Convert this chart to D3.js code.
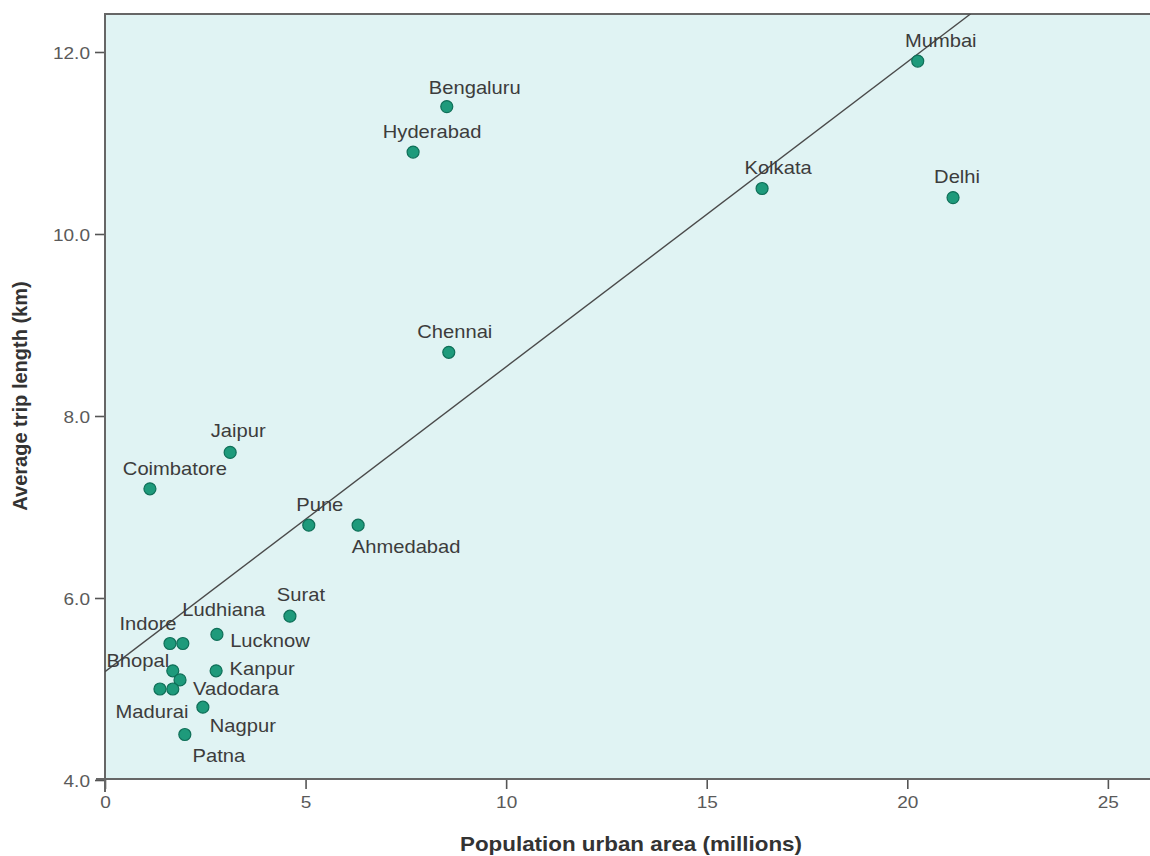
<!DOCTYPE html>
<html>
<head>
<meta charset="utf-8">
<script src="https://cdn.jsdelivr.net/npm/d3@7"></script>
<style>
  html, body { margin: 0; padding: 0; background: #ffffff; }
  svg { display: block; }
  text { font-family: "Liberation Sans", Arial, Helvetica, sans-serif; }
</style>
</head>
<body>
<svg id="chart" width="1150" height="856"></svg>
<script>
// ---- Data ----
const cities = ["Mumbai", "Delhi", "Kolkata", "Bengaluru", "Hyderabad", "Chennai",
  "Jaipur", "Coimbatore", "Pune", "Ahmedabad", "Surat", "Lucknow", "Ludhiana",
  "Indore", "Bhopal", "Kanpur", "Vadodara", "Madurai", "", "Nagpur", "Patna"];
const population = [20.26, 21.14, 16.38, 8.52, 7.68, 8.57,
  3.12, 1.12, 5.08, 6.31, 4.61, 2.79, 1.94,
  1.62, 1.69, 2.77, 1.87, 1.37, 1.69, 2.44, 1.99];
const tripLength = [11.9, 10.4, 10.5, 11.4, 10.9, 8.7,
  7.6, 7.2, 6.8, 6.8, 5.8, 5.6, 5.5,
  5.5, 5.2, 5.2, 5.1, 5.0, 5.0, 4.8, 4.5];
const xTicks = [0, 5, 10, 15, 20, 25];
const yTicks = [4, 6, 8, 10, 12];
const trendIntercept = 5.19;
const trendSlope = 0.335;
const xTitle = "Population urban area (millions)";
const yTitle = "Average trip length (km)";

// ---- Layout (label placement in px relative to point) ----
const labelPlacement = {
  "Mumbai": [23, -14], "Delhi": [4, -15], "Kolkata": [16, -15],
  "Bengaluru": [28, -13], "Hyderabad": [19, -14], "Chennai": [6, -14],
  "Jaipur": [8, -15], "Coimbatore": [25, -14], "Pune": [11, -14],
  "Ahmedabad": [48, 28], "Surat": [11, -15], "Lucknow": [53, 13],
  "Ludhiana": [41, -28], "Indore": [-22, -14], "Bhopal": [-35, -4],
  "Kanpur": [46, 4], "Vadodara": [56, 15], "Madurai": [-8, 29],
  "Nagpur": [40, 25], "Patna": [34, 27]
};
const SX = 1.12; // horizontal text stretch seen in the reference

(function draw() {
  const svg = d3.select("#chart");
  const pL = 105, pR = 1150, pT = 14, pB = 779;

  const x = d3.scaleLinear().domain([0, 26.1]).range([105, 1152]);
  const y = d3.scaleLinear().domain([4, 12]).range([780, 52]);

  // plot background
  svg.append("rect").attr("x", pL).attr("y", pT)
    .attr("width", pR - pL).attr("height", pB - pT)
    .attr("fill", "#e0f3f3");

  svg.append("clipPath").attr("id", "clip")
    .append("rect").attr("x", pL).attr("y", pT)
    .attr("width", pR - pL).attr("height", pB - pT);

  // axes (ticks via d3 axes)
  const yAxis = d3.axisLeft(y).tickValues(yTicks).tickFormat(d3.format(".1f"))
    .tickSizeInner(10).tickSizeOuter(0).tickPadding(5);
  const gy = svg.append("g").attr("transform", `translate(${pL},0)`).call(yAxis);
  gy.select(".domain").remove();
  gy.selectAll(".tick line").attr("stroke", "#555").attr("stroke-width", 1.6);
  gy.selectAll(".tick text")
    .attr("x", null).attr("dy", null)
    .attr("text-anchor", "end")
    .attr("transform", `translate(-15,6) scale(${SX},1)`)
    .attr("font-size", 17).attr("fill", "#5a5a5a");

  const xAxis = d3.axisBottom(x).tickValues(xTicks).tickFormat(d3.format("d"))
    .tickSizeInner(10).tickSizeOuter(0);
  const gx = svg.append("g").attr("transform", `translate(0,${pB})`).call(xAxis);
  gx.select(".domain").remove();
  gx.selectAll(".tick line").attr("stroke", "#555").attr("stroke-width", 1.6);
  gx.selectAll(".tick text")
    .attr("y", null).attr("dy", null)
    .attr("text-anchor", "middle")
    .attr("transform", `translate(0,29) scale(${SX},1)`)
    .attr("font-size", 17).attr("fill", "#5a5a5a");

  // frame lines
  svg.append("line").attr("x1", pL).attr("x2", pL).attr("y1", pT - 1).attr("y2", 792)
    .attr("stroke", "#666").attr("stroke-width", 2);
  svg.append("line").attr("x1", pL - 1).attr("x2", pR).attr("y1", pT).attr("y2", pT)
    .attr("stroke", "#666").attr("stroke-width", 2);
  svg.append("line").attr("x1", 96).attr("x2", pR).attr("y1", pB).attr("y2", pB)
    .attr("stroke", "#666").attr("stroke-width", 2);

  // trend line
  const xEnd = (12.42 - trendIntercept) / trendSlope;
  svg.append("line")
    .attr("clip-path", "url(#clip)")
    .attr("x1", x(0)).attr("y1", y(trendIntercept))
    .attr("x2", x(xEnd)).attr("y2", y(trendIntercept + trendSlope * xEnd))
    .attr("stroke", "#4a4a4a").attr("stroke-width", 1.4);

  // points
  const data = cities.map((c, i) => ({ city: c, px: population[i], ty: tripLength[i] }));
  svg.append("g").selectAll("circle").data(data).join("circle")
    .attr("cx", d => x(d.px)).attr("cy", d => y(d.ty)).attr("r", 6)
    .attr("fill", "#1e9a7b").attr("stroke", "#0f6f58").attr("stroke-width", 1.2);

  // labels
  svg.append("g").selectAll("text").data(data.filter(d => d.city)).join("text")
    .attr("text-anchor", "middle")
    .attr("transform", d => {
      const o = labelPlacement[d.city];
      return `translate(${x(d.px) + o[0]},${y(d.ty) + o[1]}) scale(${SX},1)`;
    })
    .attr("font-size", 18).attr("fill", "#3c3c3c")
    .text(d => d.city);

  // axis titles
  svg.append("text").attr("text-anchor", "middle")
    .attr("transform", `translate(631,851) scale(${SX},1)`)
    .attr("font-size", 20).attr("font-weight", "bold").attr("fill", "#333")
    .text(xTitle);
  svg.append("text").attr("text-anchor", "middle")
    .attr("transform", `translate(27,396) rotate(-90)`)
    .attr("font-size", 20).attr("font-weight", "bold").attr("fill", "#333")
    .text(yTitle);
})();
</script>
</body>
</html>
